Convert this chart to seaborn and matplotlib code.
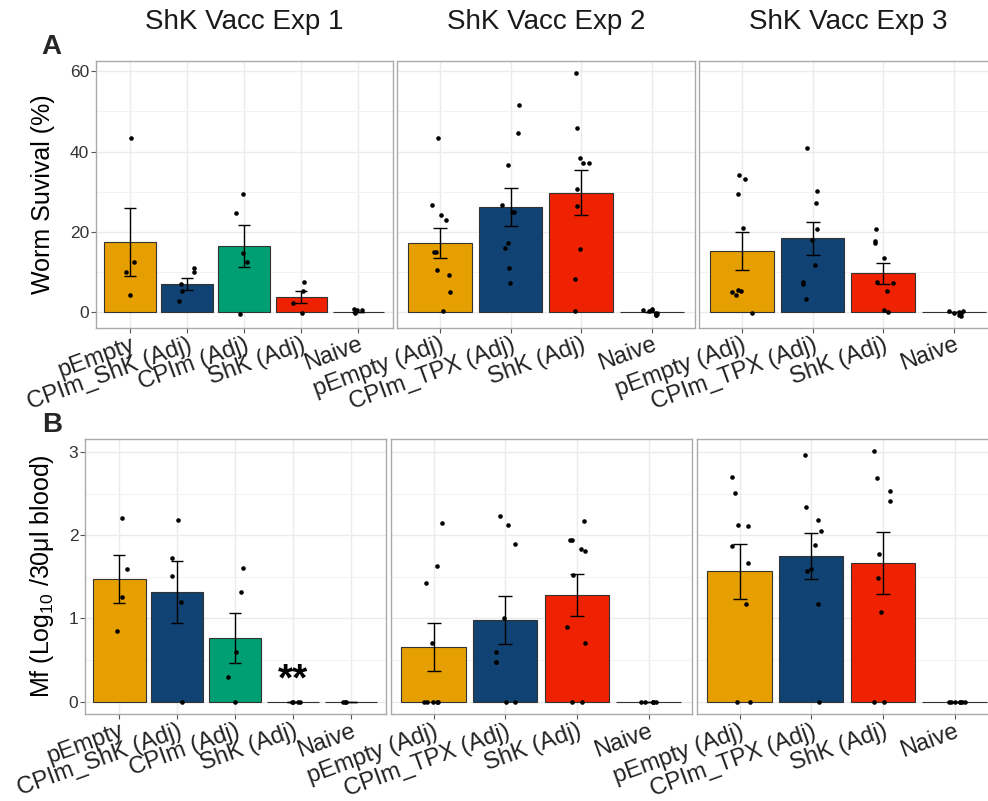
import numpy as np
import pandas as pd
import matplotlib
matplotlib.use("Agg")
import matplotlib.pyplot as plt
import seaborn as sns
from matplotlib.ticker import MultipleLocator

sns.set_theme(style="white")
plt.rcParams['font.family'] = ['Liberation Sans', 'DejaVu Sans']
plt.rcParams['mathtext.fontset'] = 'custom'
plt.rcParams['mathtext.rm'] = 'Liberation Sans'

# ---------------- data ----------------
exp_titles = ["ShK Vacc Exp 1", "ShK Vacc Exp 2", "ShK Vacc Exp 3"]
groups_exp1 = ["pEmpty", "CPIm_ShK (Adj)", "CPIm (Adj)", "ShK (Adj)", "Naive"]
groups_exp23 = ["pEmpty (Adj)", "CPIm_TPX (Adj)", "ShK (Adj)", "Naive"]

group_colors = {
    "pEmpty": "#E69F00", "pEmpty (Adj)": "#E69F00",
    "CPIm_ShK (Adj)": "#104273", "CPIm_TPX (Adj)": "#104273",
    "CPIm (Adj)": "#009E73",
    "ShK (Adj)": "#EE2200",
    "Naive": "#FFFFFF",
}

# Worm survival (%) - individual animals
surv_exp1 = {
    "pEmpty": [43.4, 12.4, 9.9, 4.4],
    "CPIm_ShK (Adj)": [10.1, 10.9, 7.0, 5.4, 2.8],
    "CPIm (Adj)": [29.4, 24.7, 14.7, 12.4, -0.5],
    "ShK (Adj)": [7.5, 5.3, 2.4, -0.3],
    "Naive": [0.7, 0.5, -0.3, 0.6],
}
surv_exp2 = {
    "pEmpty (Adj)": [43.5, 26.6, 24.1, 23.0, 14.9, 15.1, 10.6, 9.4, 5.1, 0.2],
    "CPIm_TPX (Adj)": [51.7, 44.7, 36.6, 26.7, 24.9, 24.9, 17.2, 15.9, 10.9, 7.3],
    "ShK (Adj)": [59.7, 45.8, 38.4, 37.1, 37.1, 30.7, 26.5, 15.8, 8.4, 0.2],
    "Naive": [0.9, 0.6, 0.5, 0.3, -0.2, -0.5, -0.8, -0.7],
}
surv_exp3 = {
    "pEmpty (Adj)": [34.3, 33.3, 29.4, 20.9, 5.5, 5.3, 5.0, 4.4, -0.3],
    "CPIm_TPX (Adj)": [40.9, 30.3, 27.2, 20.7, 18.0, 11.8, 7.5, 7.1, 3.4],
    "ShK (Adj)": [20.8, 17.7, 17.2, 13.4, 7.5, 7.4, 5.2, 0.5, 0.0],
    "Naive": [0.2, 0.4, -0.2, -0.7, -0.3, -0.9, 0.1],
}
surv_mean_exp1 = [17.5, 7.0, 16.5, 3.75, 0.0]
surv_se_exp1 = [8.5, 1.5, 5.2, 1.55, 0.0]
surv_mean_exp2 = [17.25, 26.25, 29.8, 0.0]
surv_se_exp2 = [3.85, 4.65, 5.7, 0.0]
surv_mean_exp3 = [15.3, 18.4, 9.7, 0.0]
surv_se_exp3 = [4.7, 4.1, 2.6, 0.0]

# Mf (Log10 / 30ul blood)
mf_exp1 = {
    "pEmpty": [2.21, 1.59, 1.26, 0.85],
    "CPIm_ShK (Adj)": [2.19, 1.73, 1.51, 1.20, 0.0],
    "CPIm (Adj)": [1.61, 1.32, 0.60, 0.30, 0.0],
    "ShK (Adj)": [0.0, 0.0, 0.0, 0.0],
    "Naive": [0.0, 0.0, 0.0],
}
mf_exp2 = {
    "pEmpty (Adj)": [2.15, 1.63, 1.43, 0.70, 0.0, 0.0, 0.0, 0.0, 0.0],
    "CPIm_TPX (Adj)": [2.23, 2.12, 1.90, 1.00, 0.60, 0.48, 0.48, 0.0, 0.0],
    "ShK (Adj)": [2.17, 1.94, 1.94, 1.83, 1.81, 1.52, 0.90, 0.70, 0.0, 0.0],
    "Naive": [0.0, 0.0, 0.0, 0.0, 0.0, 0.0],
}
mf_exp3 = {
    "pEmpty (Adj)": [2.70, 2.51, 2.13, 2.11, 1.87, 1.67, 1.18, 0.0, 0.0],
    "CPIm_TPX (Adj)": [2.97, 2.34, 2.19, 2.05, 1.89, 1.59, 1.57, 1.18, 0.0],
    "ShK (Adj)": [3.01, 2.69, 2.54, 2.41, 1.77, 1.49, 1.08, 0.0, 0.0],
    "Naive": [0.0, 0.0, 0.0, 0.0, 0.0, 0.0, 0.0],
}
mf_mean_exp1 = [1.475, 1.32, 0.765, 0.0, 0.0]
mf_se_exp1 = [0.285, 0.37, 0.305, 0.0, 0.0]
mf_mean_exp2 = [0.66, 0.98, 1.285, 0.0]
mf_se_exp2 = [0.29, 0.29, 0.255, 0.0]
mf_mean_exp3 = [1.57, 1.75, 1.665, 0.0]
mf_se_exp3 = [0.33, 0.28, 0.375, 0.0]

surv_ticks = [0, 20, 40, 60]
mf_ticks = [0, 1, 2, 3]
signif_label = "**"

# ---------------- figure ----------------
np.random.seed(3)
W, H = 988, 801
fig = plt.figure(figsize=(W / 100, H / 100), dpi=100)


def add_ax(x0, x1, y0, y1):
    return fig.add_axes([x0 / W, 1 - y1 / H, (x1 - x0) / W, (y1 - y0) / H])


def draw_panel(ax, groups, points, means, ses, capsize):
    bar_df = pd.DataFrame({"group": groups, "mean": means})
    sns.barplot(data=bar_df, x="group", y="mean", hue="group", order=groups,
                hue_order=groups, palette=[group_colors[g] for g in groups],
                saturation=1, width=0.9, edgecolor="#333333", linewidth=0.8,
                errorbar=None, legend=False, ax=ax, zorder=2)
    ax.errorbar(np.arange(len(groups)), means, yerr=ses, fmt="none",
                ecolor="black", elinewidth=1.0, capsize=capsize, capthick=1.0,
                zorder=3)
    pts = pd.DataFrame([(g, v) for g in groups for v in points[g]],
                       columns=["group", "value"])
    sns.stripplot(data=pts, x="group", y="value", order=groups, color="black",
                  size=3.3, jitter=0.15, ax=ax, zorder=4)
    ax.set_xlabel("")
    ax.set_ylabel("")
    ax.set_axisbelow(True)
    ax.grid(which="major", color="#EBEBEB", linewidth=1.0)
    ax.grid(which="minor", axis="y", color="#F2F2F2", linewidth=0.7)
    for s in ax.spines.values():
        s.set_color("#AAAAAA")
        s.set_linewidth(1.0)
    ax.set_xticks(range(len(groups)))
    ax.set_xticklabels(groups, rotation=20, ha="right", va="top",
                       rotation_mode="anchor", fontsize=17, color="#222222")
    ax.tick_params(axis="x", length=3.6, width=0.8, color="#555555", pad=0.8,
                   bottom=True)
    ax.tick_params(which="minor", length=0)


top_boxes = [(95.7, 392.7), (397.3, 694.5), (699.3, 988.0)]
bot_boxes = [(84.8, 385.5), (390.5, 691.5), (696.5, 988.0)]
top_y = (60.5, 327.5)
bot_y = (439.0, 714.0)

surv_data = [(groups_exp1, surv_exp1, surv_mean_exp1, surv_se_exp1),
             (groups_exp23, surv_exp2, surv_mean_exp2, surv_se_exp2),
             (groups_exp23, surv_exp3, surv_mean_exp3, surv_se_exp3)]
mf_data = [(groups_exp1, mf_exp1, mf_mean_exp1, mf_se_exp1),
           (groups_exp23, mf_exp2, mf_mean_exp2, mf_se_exp2),
           (groups_exp23, mf_exp3, mf_mean_exp3, mf_se_exp3)]

full_w_top = top_boxes[1][1] - top_boxes[1][0]
full_w_bot = bot_boxes[1][1] - bot_boxes[1][0]

for row, (boxes, ys, data, ylim, ticks, minor, full_w) in enumerate([
        (top_boxes, top_y, surv_data, (-3.8, 62.7), surv_ticks, 10, full_w_top),
        (bot_boxes, bot_y, mf_data, (-0.15, 3.16), mf_ticks, 0.5, full_w_bot)]):
    for i, ((x0, x1), (groups, pts, means, ses)) in enumerate(zip(boxes, data)):
        ax = add_ax(x0, x1, ys[0], ys[1])
        n = len(groups)
        capsize = 4.1 if n == 5 else 5.1
        draw_panel(ax, groups, pts, means, ses, capsize)
        ax.set_ylim(*ylim)
        ax.set_yticks(ticks)
        ax.yaxis.set_minor_locator(MultipleLocator(minor))
        if i == 2:
            ax.set_xlim(-0.6, -0.6 + (n - 1 + 1.2) * (x1 - x0) / full_w)
            ax.spines["right"].set_visible(False)
        else:
            ax.set_xlim(-0.6, n - 1 + 0.6)
        if i == 0:
            ax.tick_params(axis="y", length=3.6, width=0.8, color="#555555",
                           pad=1.0, labelsize=12.5, labelcolor="#333333", left=True)
        else:
            ax.tick_params(axis="y", left=False, labelleft=False)
        if row == 0:
            tx = 0.5 if i < 2 else (0.5 * full_w) / (x1 - x0)
            ax.set_title(exp_titles[i], fontsize=20, color="#1A1A1A",
                         pad=22.5, x=tx)
        if row == 0 and i == 0:
            ax.set_ylabel("Worm Suvival (%)", fontsize=18, color="black")
            ax.yaxis.set_label_coords((42.5 - x0) / (x1 - x0), 0.5)
            ax.yaxis.label.set_va("center")
        if row == 1 and i == 0:
            ax.set_ylabel(r"Mf (Log$_\mathregular{10}$ /30μl blood)",
                          fontsize=18, color="black")
            ax.yaxis.set_label_coords((42.5 - x0) / (x1 - x0), 0.5)
            ax.yaxis.label.set_va("center")
            ax.text(groups.index("ShK (Adj)"), 0.13, signif_label, ha="center",
                    va="baseline", fontsize=28, fontweight="bold", color="black",
                    zorder=5)

fig.text(51 / W, 1 - 47.5 / H, "A", fontsize=20, fontweight="bold",
         ha="center", va="center")
fig.text(52 / W, 1 - 425 / H, "B", fontsize=20, fontweight="bold",
         ha="center", va="center")

fig.savefig("out.png", dpi=100)
